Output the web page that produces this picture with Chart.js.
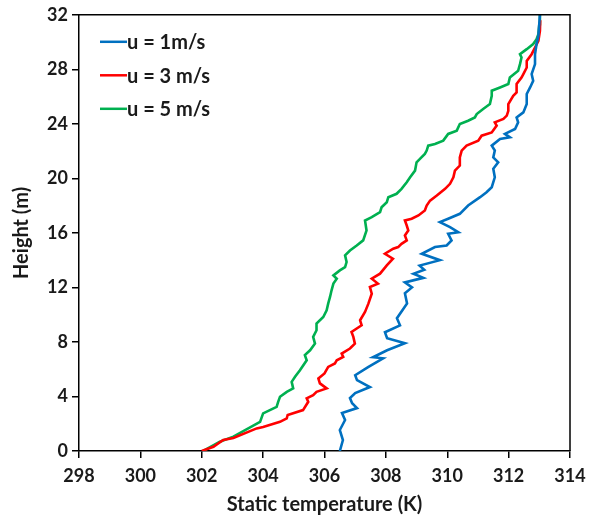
<!DOCTYPE html>
<html>
<head>
<meta charset="utf-8">
<script src="https://cdn.jsdelivr.net/npm/chart.js@4"></script>
<style>
  body { margin: 0; background: #fff; }
  #wrap { width: 597px; height: 519px; }
</style>
</head>
<body>
<div id="wrap"><canvas id="myChart" width="597" height="519"></canvas></div>
<script>
"use strict";

const seriesNames = ["u = 1m/s", "u = 3 m/s", "u = 5 m/s"];
const colors = ["#0070C0", "#FF0000", "#00B050"];
const xTicks = [298, 300, 302, 304, 306, 308, 310, 312, 314];
const yTicks = [0, 4, 8, 12, 16, 20, 24, 28, 32];

// u = 1 m/s
const temp1 = [306.50, 306.60, 306.50, 306.67, 306.57, 307.06, 306.90, 306.83, 307.00, 307.48,
  307.06, 307.00, 307.42, 307.91, 307.58, 308.04, 308.62, 308.04, 307.97, 308.46,
  308.36, 308.69, 308.62, 308.85, 308.62, 309.22, 308.90, 309.25, 309.10, 309.76,
  309.17, 309.60, 309.98, 310.14, 310.03, 310.36, 310.09, 309.76, 310.03, 310.41,
  310.68, 311.07, 311.28, 311.45, 311.55, 311.50, 311.66, 311.50, 311.55, 311.45,
  311.72, 312.04, 311.88, 312.21, 312.31, 312.26, 312.48, 312.59, 312.59, 312.70,
  312.80, 312.75, 312.86, 312.86, 312.91, 312.97, 313.02];
const height1 = [0, 0.80, 1.54, 2.27, 2.78, 3.15, 3.51, 3.88, 4.25, 4.69,
  5.20, 5.56, 6.15, 6.80, 6.88, 7.39, 7.90, 8.27, 8.71, 9.22,
  9.74, 10.83, 11.57, 12.00, 12.37, 12.70, 13.00, 13.30, 13.60, 14.00,
  14.47, 14.96, 15.08, 15.45, 15.94, 16.05, 16.42, 16.79, 17.04, 17.40,
  18.01, 18.62, 18.98, 19.35, 20.08, 20.70, 21.18, 21.54, 22.04, 22.40,
  22.89, 23.01, 23.26, 23.62, 24.11, 24.47, 24.84, 25.45, 26.19, 26.67,
  27.16, 27.65, 28.38, 29.11, 29.85, 30.45, 32];

// u = 3 m/s
const temp3 = [302.00, 302.38, 302.70, 303.03, 303.79, 304.00, 304.55, 304.77, 304.80, 305.30,
  305.47, 305.42, 305.63, 305.74, 306.07, 305.85, 305.80, 306.00, 306.12, 306.34,
  306.40, 306.61, 306.56, 306.83, 306.99, 306.94, 306.88, 307.21, 307.16, 307.32,
  307.43, 307.54, 307.48, 307.74, 307.54, 307.81, 308.03, 308.23, 307.97, 308.24,
  308.40, 308.51, 308.68, 308.62, 308.73, 308.68, 308.62, 308.84, 309.06, 309.27,
  309.33, 309.44, 309.66, 309.93, 310.09, 310.20, 310.25, 310.41, 310.41, 310.47,
  310.63, 311.01, 311.12, 311.45, 311.61, 311.55, 311.83, 311.94, 311.99, 311.99,
  312.15, 312.26, 312.26, 312.42, 312.48, 312.59, 312.59, 312.75, 312.86, 312.97,
  313.02, 313.03];
const height3 = [0, 0.31, 0.81, 0.95, 1.66, 1.76, 2.14, 2.39, 2.64, 3.00,
  3.61, 3.86, 4.10, 4.34, 4.59, 4.96, 5.32, 5.69, 6.17, 6.42,
  6.66, 6.90, 7.15, 7.52, 7.88, 8.37, 8.73, 9.22, 9.59, 10.20,
  10.81, 11.54, 12.03, 12.28, 12.64, 13.01, 13.62, 14.11, 14.47, 14.84,
  14.96, 15.20, 15.45, 15.81, 16.18, 16.54, 16.91, 17.04, 17.28, 17.64,
  18.01, 18.37, 18.74, 19.23, 19.60, 20.08, 20.57, 20.94, 21.54, 22.04,
  22.40, 22.77, 23.13, 23.37, 23.87, 24.11, 24.36, 24.60, 24.96, 25.45,
  26.06, 26.30, 26.92, 27.40, 27.65, 28.13, 28.62, 29.11, 29.60, 30.09,
  30.82, 31.60];

// u = 5 m/s
const temp5 = [302.05, 302.59, 303.03, 303.90, 304.00, 304.44, 304.49, 304.55, 304.77, 304.98,
  304.93, 305.04, 305.20, 305.42, 305.36, 305.53, 305.69, 305.63, 305.74, 305.74,
  305.96, 306.07, 306.12, 306.18, 306.23, 306.29, 306.40, 306.29, 306.50, 306.67,
  306.72, 306.67, 306.83, 307.05, 307.26, 307.37, 307.32, 307.54, 307.81, 307.86,
  308.03, 308.08, 308.35, 308.51, 308.68, 308.79, 308.95, 309.00, 309.11, 309.27,
  309.33, 309.38, 309.60, 309.87, 310.03, 310.31, 310.41, 310.68, 310.90, 310.96,
  311.17, 311.39, 311.45, 311.45, 311.72, 311.99, 312.04, 312.31, 312.37, 312.42,
  312.37, 312.59, 312.80, 312.91, 312.97, 313.00, 313.02];
const height5 = [0, 0.68, 1.05, 2.14, 2.76, 3.24, 3.61, 3.98, 4.34, 4.59,
  5.07, 5.44, 5.93, 6.66, 7.03, 7.39, 7.88, 8.37, 8.86, 9.35,
  9.83, 10.32, 10.81, 11.30, 11.79, 12.28, 12.64, 12.88, 13.25, 13.49,
  13.86, 14.35, 14.71, 15.08, 15.45, 16.18, 16.91, 17.15, 17.52, 17.88,
  18.25, 18.62, 18.87, 19.23, 19.71, 20.08, 20.57, 21.18, 21.43, 21.79,
  22.04, 22.40, 22.53, 22.77, 23.26, 23.50, 23.99, 24.23, 24.47, 24.72,
  25.09, 25.45, 26.06, 26.43, 26.67, 26.92, 27.40, 27.89, 28.38, 28.87,
  29.11, 29.48, 29.85, 30.21, 30.58, 31.31, 32];

const temps = [temp1, temp3, temp5];
const heights = [height1, height3, height5];

const FONT = "Lato, 'Open Sans', sans-serif";
const TEXT = '#1a1a1a';

// box round the plot area and legend in its top left corner
const frameAndLegend = {
  id: 'frameAndLegend',
  afterDraw(chart) {
    const ctx = chart.ctx;
    const a = chart.chartArea;
    ctx.save();
    ctx.strokeStyle = '#000';
    ctx.lineWidth = 1.5;
    ctx.beginPath();
    ctx.moveTo(a.left, a.top);
    ctx.lineTo(a.right, a.top);
    ctx.lineTo(a.right, a.bottom);
    ctx.stroke();

    ctx.font = "bold 20px " + FONT;
    ctx.textBaseline = 'middle';
    chart.data.datasets.forEach((ds, i) => {
      const y = a.top + 27 + i * 33.5;
      ctx.strokeStyle = ds.borderColor;
      ctx.lineWidth = 2.5;
      ctx.beginPath();
      ctx.moveTo(a.left + 21, y);
      ctx.lineTo(a.left + 48, y);
      ctx.stroke();
      ctx.fillStyle = TEXT;
      ctx.fillText(ds.label, a.left + 48, y + 1);
    });
    ctx.restore();
  }
};

new Chart("myChart", {
  type: 'line',
  data: {
    datasets: seriesNames.map((name, i) => ({
      label: name,
      data: temps[i].map((t, k) => ({ x: t, y: heights[i][k] })),
      borderColor: colors[i],
      backgroundColor: colors[i],
      borderWidth: 2.6,
      pointRadius: 0,
      tension: 0,
      fill: false
    }))
  },
  options: {
    responsive: false,
    animation: false,
    layout: { padding: { top: 14, right: 27, left: 0, bottom: 0 } },
    plugins: {
      legend: { display: false },
      tooltip: { enabled: false }
    },
    scales: {
      x: {
        type: 'linear',
        min: 298,
        max: 314,
        afterBuildTicks: (s) => { s.ticks = xTicks.map(v => ({ value: v })); },
        afterFit: (s) => { s.height = 68; },
        grid: { display: true, drawOnChartArea: false, drawTicks: true, tickLength: 7, color: '#000', lineWidth: 1.5 },
        border: { display: true, color: '#000', width: 1.5 },
        ticks: { color: TEXT, font: { family: FONT, size: 18, weight: 'bold' }, padding: 7, maxRotation: 0 },
        title: { display: true, text: 'Static temperature (K)', color: TEXT, font: { family: FONT, size: 20, weight: 'bold' }, padding: { top: 2, bottom: 2 } }
      },
      y: {
        type: 'linear',
        min: 0,
        max: 32,
        afterBuildTicks: (s) => { s.ticks = yTicks.map(v => ({ value: v })); },
        afterFit: (s) => { s.width = 79; },
        grid: { display: true, drawOnChartArea: false, drawTicks: true, tickLength: 7, color: '#000', lineWidth: 1.5 },
        border: { display: true, color: '#000', width: 1.5 },
        ticks: { color: TEXT, font: { family: FONT, size: 18, weight: 'bold' }, padding: 4 },
        title: { display: true, text: 'Height (m)', color: TEXT, font: { family: FONT, size: 20, weight: 'bold' }, padding: { top: 10, bottom: 2 } }
      }
    }
  },
  plugins: [frameAndLegend]
});
</script>
</body>
</html>
